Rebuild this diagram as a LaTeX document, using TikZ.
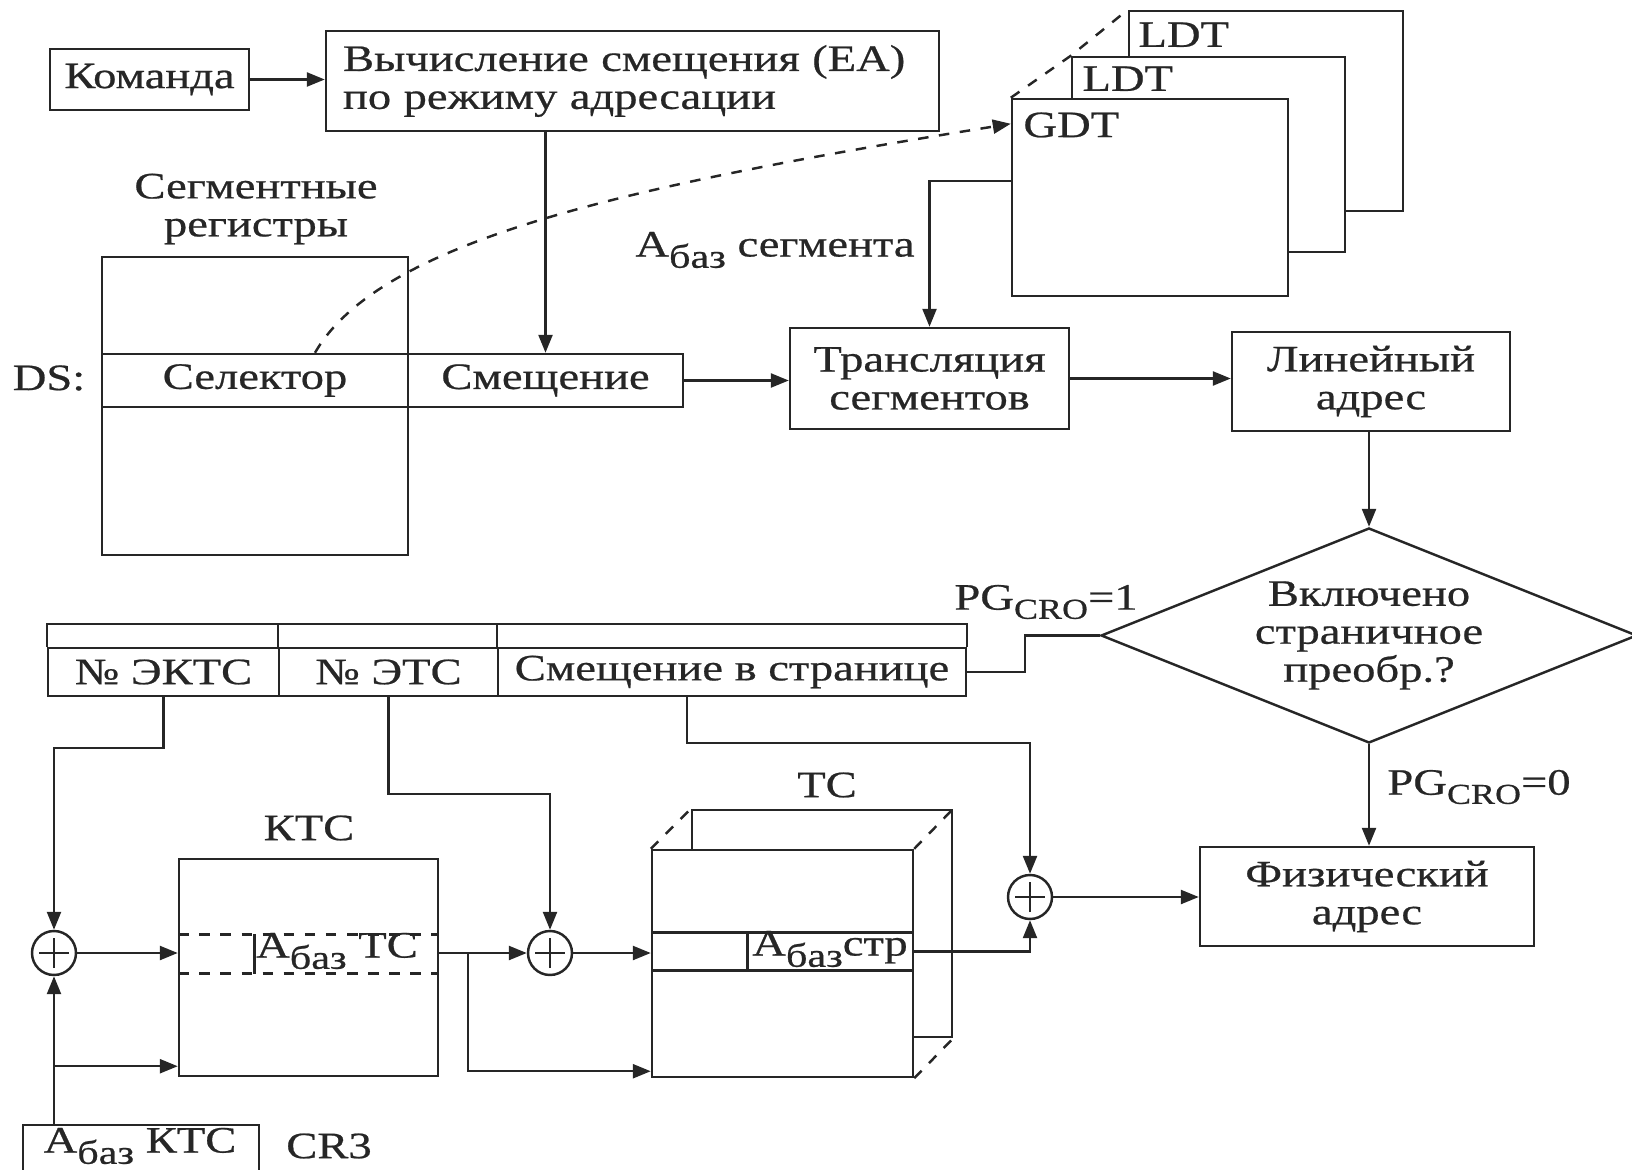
\documentclass[tikz,border=0pt]{standalone}
\usepackage{fontspec}
\setmainfont{Liberation Serif}[FakeStretch=1.25,FakeBold=0.6]
\usetikzlibrary{positioning,calc,shapes.geometric,arrows.meta}
\definecolor{ink}{gray}{0.15}
\newcommand{\sbz}{\raisebox{-3.2pt}{\fontsize{9.6}{10}\selectfont баз}}
\newcommand{\sbcro}{\raisebox{-2.6pt}{\fontsize{8.2}{9}\selectfont CRO}}

\begin{document}
\begin{tikzpicture}[
  every node/.style={font=\fontsize{10.6}{10.8}\selectfont,text=ink},
  blk/.style={rectangle,draw=ink,line width=0.7pt,fill=white,inner sep=1pt},
  cell/.style={rectangle,draw=ink,line width=0.7pt,inner sep=0pt,minimum height=4.8mm},
  sum/.style={circle,draw=ink,line width=0.7pt,fill=white,minimum size=4.4mm,inner sep=0pt,
    path picture={\draw[ink,line width=0.7pt,shift={(path picture bounding box.center)}] (-1.5mm,0) -- (1.5mm,0) (0,-1.5mm) -- (0,1.5mm);}},
  lnk/.style={draw=ink,line width=0.7pt},
  arr/.style={lnk,-{Triangle[length=1.8mm,width=1.4mm]}}
]
  \useasboundingbox (0,0) rectangle (16.32,-11.70);

  \node[blk,minimum width=1.99cm,minimum height=6.1mm] (cmd) at (1.495,-0.795) {Команда};
  \node[blk,minimum width=6.13cm,minimum height=10mm,text width=5.79cm,align=left,inner xsep=1.7mm,inner ysep=0.5mm] (ea) at (6.325,-0.81) {Вычисление смещения (EA)\\по режиму адресации};
  \draw[arr] (cmd) -- (cmd -| ea.west);

  \node[align=center] (seglbl) at (2.56,-2.09) {Сегментные\\регистры};
  \node[blk,minimum width=3.06cm,minimum height=2.98cm] (segreg) at (2.55,-4.06) {};
  \node[cell,minimum width=3.06cm,minimum height=5.3mm] (sel) at (2.55,-3.805) {Селектор};
  \node[cell,minimum width=2.75cm,minimum height=5.3mm] (offs) at (5.455,-3.805) {Смещение};
  \node (ds) at (0.49,-3.78) {DS:};
  \draw[arr] (offs.north |- ea.south) -- (offs.north);

  \node[blk,minimum width=2.74cm,minimum height=2cm] (ldtb) at (12.66,-1.11) {};
  \node[blk,minimum width=2.73cm,minimum height=1.95cm] (ldta) at (12.085,-1.545) {};
  \node[blk,minimum width=2.76cm,minimum height=1.97cm] (gdt) at (11.50,-1.975) {};
  \node[anchor=north west,inner sep=0pt] (ldtbtxt) at ($(ldtb.north west)+(0.1,-0.12)$) {LDT};
  \node[anchor=north west,inner sep=0pt] (ldtatxt) at ($(ldta.north west)+(0.11,-0.10)$) {LDT};
  \node[anchor=north west,inner sep=0pt] (gdttxt) at ($(gdt.north west)+(0.12,-0.14)$) {GDT};
  \draw[lnk,dashed] (gdt.north west) -- (ldta.north west) -- (ldtb.north west);

  \draw[lnk,dashed,-{Triangle[length=1.8mm,width=1.4mm]}] ($(sel.north)+(0.6,0)$) .. controls (3.8,-2.4) and (6.3,-1.85) .. ($(gdt.north west)+(0,-0.26)$);
  \node (abazseg) at (7.75,-2.50) {A\sbz\ сегмента};

  \node[blk,minimum width=2.79cm,minimum height=10.1mm,align=center] (trans) at (9.295,-3.785) {Трансляция\\сегментов};
  \node[blk,minimum width=2.78cm,minimum height=9.9mm,align=center] (lin) at (13.71,-3.815) {Линейный\\адрес};
  \draw[arr] ($(gdt.north west)+(0,-0.83)$) -| (trans.north);
  \draw[arr] (offs.east) -- (offs.east -| trans.west);
  \draw[arr] (trans.east) -- (trans.east -| lin.west);

  \node[diamond,aspect=2.5,draw=ink,line width=0.7pt,minimum width=5.36cm,minimum height=2.15cm,inner sep=0pt,align=center] (dec) at (13.69,-6.355) {Включено\\страничное\\преобр.?};
  \draw[arr] (dec.north |- lin.south) -- (dec.north);

  \node[cell,minimum width=2.31cm] (ektc) at (1.635,-6.72) {№ ЭКТС};
  \node[cell,minimum width=2.19cm] (ets) at (3.885,-6.72) {№ ЭТС};
  \node[cell,minimum width=4.68cm] (pgoff) at (7.32,-6.72) {Смещение в странице};
  \draw[lnk] (ektc.north west) -- ++(0,0.23) -| (pgoff.north east);
  \draw[lnk] (ets.north west) -- ++(0,0.23) (pgoff.north west) -- ++(0,0.23);

  \draw[lnk] (pgoff.east) -- ++(0.58,0) |- (dec.west);
  \node (pg1) at (10.46,-6.02) {PG\sbcro{}=1};
  \node[blk,minimum width=3.34cm,minimum height=9.9mm,align=center] (phys) at (13.67,-8.965) {Физический\\адрес};
  \draw[arr] (dec.south) -- (dec.south |- phys.north);
  \node (pg0) at (14.79,-7.87) {PG\sbcro{}=0};

  \node[sum] (sum1) at (0.54,-9.53) {};
  \node[sum] (sum2) at (5.50,-9.53) {};
  \node[sum] (sum3) at (10.30,-8.97) {};

  \node (ktclbl) at (3.09,-8.28) {КТС};
  \node[blk,minimum width=2.59cm,minimum height=2.17cm] (ktc) at (3.085,-9.675) {};
  \node[minimum width=2.59cm,minimum height=3.8mm,inner sep=0pt] (ktcrow) at (3.085,-9.54) {};
  \draw[lnk,dashed] (ktcrow.north west) -- (ktcrow.north east) (ktcrow.south west) -- (ktcrow.south east);
  \draw[lnk] ($(ktcrow.north west)+(0.76,0)$) -- ($(ktcrow.south west)+(0.76,0)$);
  \node (ktcbase) at (3.37,-9.51) {A\sbz\ ТС};

  \node (tclbl) at (8.27,-7.85) {ТС};
  \node[blk,minimum width=2.60cm,minimum height=2.27cm] (tcback) at (8.22,-9.235) {};
  \node[blk,minimum width=2.61cm,minimum height=2.27cm] (tcfront) at (7.825,-9.635) {};
  \draw[lnk,dashed] (tcfront.north west) -- (tcback.north west) (tcfront.north east) -- (tcback.north east) (tcfront.south east) -- (tcback.south east);
  \node[minimum width=2.61cm,minimum height=3.7mm,inner sep=0pt] (tcrow) at (7.825,-9.515) {};
  \draw[lnk] (tcrow.north west) -- (tcrow.north east) (tcrow.south west) -- (tcrow.south east);
  \draw[lnk] ($(tcrow.north west)+(0.96,0)$) -- ($(tcrow.south west)+(0.96,0)$);
  \node (tcbase) at (8.30,-9.49) {A\sbz стр};

  \node[blk,minimum width=2.36cm,minimum height=9mm] (cr3) at (1.41,-11.70) {};
  \node (cr3base) at (1.40,-11.46) {A\sbz\ КТС};
  \node (cr3lbl) at (3.29,-11.46) {CR3};

  \draw[arr] (ektc.south) -- ++(0,-0.51) -| (sum1.north);
  \draw[arr] (ets.south) -- ++(0,-0.97) -| (sum2.north);
  \draw[arr] ($(pgoff.south)+(-0.45,0)$) -- ++(0,-0.46) -| (sum3.north);
  \draw[arr] (sum1.south |- cr3.north) -- (sum1.south);
  \coordinate (ktcin) at ($(sum1.south)+(0,-0.9)$);
  \draw[arr] (ktcin) -- (ktcin -| ktc.west);
  \draw[arr] (sum1.east) -- (sum1 -| ktc.west);
  \draw[arr] (sum1 -| ktc.east) -- (sum2.west);
  \coordinate (tcbr) at ($(sum1 -| ktc.east)+(0.29,0)$);
  \coordinate (tcin) at ($(tcfront.south west)+(0,0.07)$);
  \draw[arr] (tcbr) |- (tcin);
  \draw[arr] (sum2.east) -- (sum2 -| tcfront.west);
  \draw[arr] (tcrow.east) -| (sum3.south);
  \draw[arr] (sum3.east) -- (sum3 -| phys.west);
\end{tikzpicture}
\end{document}
